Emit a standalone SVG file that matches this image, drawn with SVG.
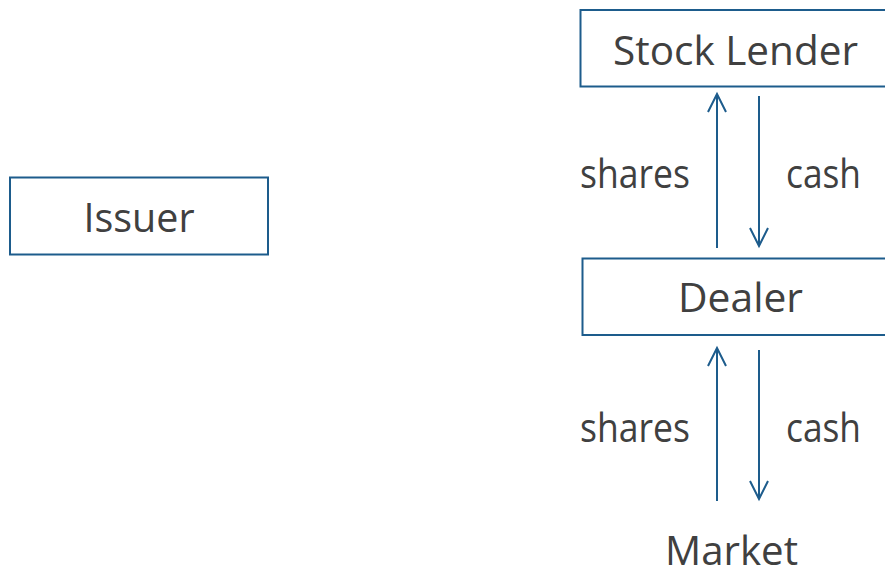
<svg xmlns="http://www.w3.org/2000/svg" width="885" height="571" viewBox="0 0 885 571">
  <style>
    .box { fill: #ffffff; stroke: #1d5c8c; stroke-width: 2; }
    .lbl { font-family: "Open Sans", "Noto Sans", sans-serif; font-size: 41px; fill: #404040; }
    .flow { stroke: #1d5c8c; stroke-width: 2; fill: none; }
  </style>
  <defs>
    <marker id="head" markerUnits="userSpaceOnUse" markerWidth="24" markerHeight="24" viewBox="-20 -12 24 24" refX="0" refY="0" orient="auto">
      <path d="M -18 -9 L 0 0 L -18 9" fill="none" stroke="#1d5c8c" stroke-width="2"/>
    </marker>
  </defs>
  <rect width="885" height="571" fill="#ffffff"/>

  <g id="issuer">
    <rect class="box" x="10" y="177.5" width="258" height="77"/>
    <text class="lbl" x="139" y="232" text-anchor="middle" textLength="111" lengthAdjust="spacingAndGlyphs">Issuer</text>
  </g>

  <g id="stock-lender">
    <rect class="box" x="580.5" y="10" width="320" height="76.5"/>
    <text class="lbl" x="613" y="65" textLength="245" lengthAdjust="spacingAndGlyphs">Stock Lender</text>
  </g>

  <g id="dealer">
    <rect class="box" x="582.5" y="258.5" width="320" height="76.5"/>
    <text class="lbl" x="678" y="312" textLength="125" lengthAdjust="spacingAndGlyphs">Dealer</text>
  </g>

  <g id="market">
    <text class="lbl" x="665" y="565" textLength="133" lengthAdjust="spacingAndGlyphs">Market</text>
  </g>

  <g id="connectors">
    <line class="flow" x1="717" y1="248" x2="717" y2="94" marker-end="url(#head)"/>
    <line class="flow" x1="759" y1="96" x2="759" y2="246" marker-end="url(#head)"/>
    <line class="flow" x1="717" y1="501" x2="717" y2="348" marker-end="url(#head)"/>
    <line class="flow" x1="759" y1="350" x2="759" y2="499" marker-end="url(#head)"/>
    <text class="lbl" x="580" y="188" textLength="110" lengthAdjust="spacingAndGlyphs">shares</text>
    <text class="lbl" x="786" y="188" textLength="75" lengthAdjust="spacingAndGlyphs">cash</text>
    <text class="lbl" x="580" y="442" textLength="110" lengthAdjust="spacingAndGlyphs">shares</text>
    <text class="lbl" x="786" y="442" textLength="75" lengthAdjust="spacingAndGlyphs">cash</text>
  </g>
</svg>
